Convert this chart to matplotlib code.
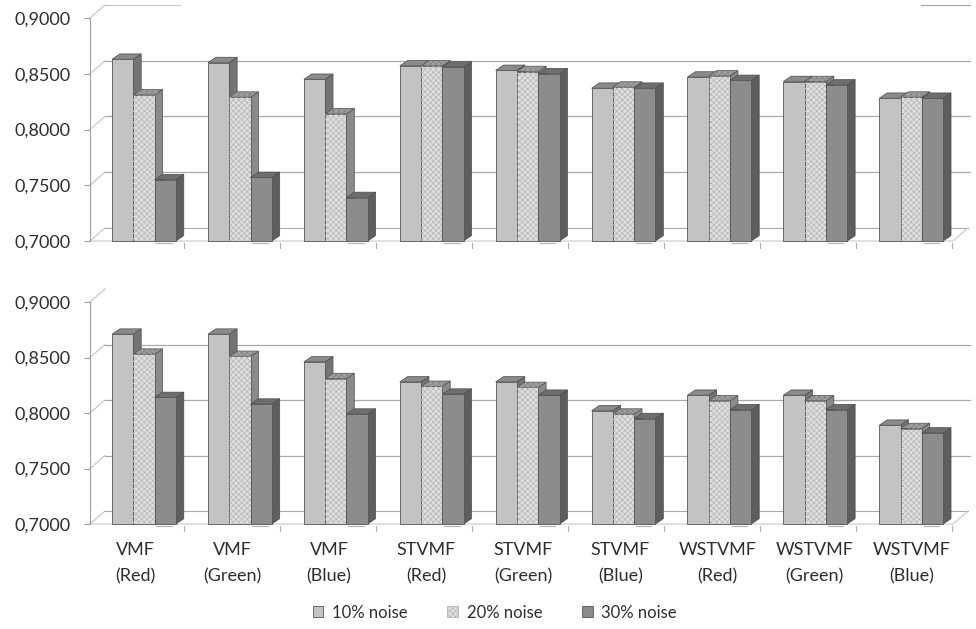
import matplotlib.pyplot as plt
from matplotlib.patches import Polygon, Rectangle, Patch

plt.rcParams['font.family'] = ['Lato', 'DejaVu Sans']
plt.rcParams['hatch.linewidth'] = 0.45

categories = ['VMF\n(Red)', 'VMF\n(Green)', 'VMF\n(Blue)',
              'STVMF\n(Red)', 'STVMF\n(Green)', 'STVMF\n(Blue)',
              'WSTVMF\n(Red)', 'WSTVMF\n(Green)', 'WSTVMF\n(Blue)']
series = ['10% noise', '20% noise', '30% noise']

# upper chart
top_noise10 = [0.863, 0.860, 0.845, 0.857, 0.853, 0.837, 0.847, 0.843, 0.828]
top_noise20 = [0.831, 0.829, 0.814, 0.857, 0.852, 0.838, 0.848, 0.843, 0.829]
top_noise30 = [0.755, 0.757, 0.739, 0.856, 0.850, 0.837, 0.844, 0.840, 0.828]

# lower chart
bot_noise10 = [0.871, 0.871, 0.846, 0.828, 0.828, 0.802, 0.816, 0.816, 0.789]
bot_noise20 = [0.853, 0.851, 0.831, 0.824, 0.823, 0.799, 0.811, 0.811, 0.786]
bot_noise30 = [0.814, 0.808, 0.799, 0.817, 0.816, 0.795, 0.803, 0.803, 0.782]

yticks = [0.70, 0.75, 0.80, 0.85, 0.90]

front_col = ['#c3c3c3', '#dedede', '#8c8c8c']
side_col = ['#747474', '#8a8a8a', '#5e5e5e']
top_col = ['#8a8a8a', '#a0a0a0', '#6e6e6e']
text_col = '#2e2e2e'

bar_w = 0.222               # front face width
bdx, bdy = 0.082, 0.0048    # bar depth
wdx, wdy = 0.156, 0.0117    # wall depth
x0, x1 = -0.563, 8.436      # floor front edge
grid_col = '#a8a8a8'


def draw_panel(ax, values, partial_top=False):
    ax.set_xlim(x0, 8.665)
    ax.set_ylim(0.70, 0.90)
    # back wall gridlines and left wall diagonals
    for t in yticks[1:4]:
        ax.plot([x0 + wdx, x1 + wdx + 0.02], [t + wdy, t + wdy],
                color=grid_col, lw=0.9, zorder=1)
    for t in yticks:
        ax.plot([x0, x0 + wdx], [t, t + wdy], color='#c4c4c4', lw=0.8,
                zorder=1, clip_on=False)
    if partial_top:
        ax.plot([x0 + wdx, 0.38], [0.9 + wdy, 0.9 + wdy], color='#c4c4c4',
                lw=0.8, zorder=1, clip_on=False)
        ax.plot([8.1, x1 + wdx + 0.02], [0.9 + wdy, 0.9 + wdy],
                color=grid_col, lw=0.9, zorder=1, clip_on=False)
    # floor
    ax.plot([x0 + wdx, x1 + wdx], [0.7 + wdy, 0.7 + wdy], color=grid_col,
            lw=0.8, zorder=1)
    ax.plot([x0, x1, x1 + wdx], [0.7, 0.7, 0.7 + wdy], color='#c8c8c8',
            lw=0.8, zorder=1, clip_on=False)
    # category ticks under the floor
    for i in range(len(categories)):
        ax.plot([i + 0.42, i + 0.42], [0.6985, 0.6935], color='#b0b0b0',
                lw=0.8, clip_on=False)
        ax.plot([i + 0.13, i + 0.29], [0.6985, 0.6985], color='#b0b0b0',
                lw=0.8, clip_on=False)

    # 3D-style bars
    for i in range(len(categories)):
        for j, vals in enumerate(values):
            v = vals[i]
            xl = i + (j - 1.5) * bar_w
            xr = xl + bar_w
            top_pts = [(xl, v), (xl + bdx, v + bdy), (xr + bdx, v + bdy), (xr, v)]
            side = Polygon([(xr, 0.7), (xr + bdx, 0.7 + bdy),
                            (xr + bdx, v + bdy), (xr, v)],
                           closed=True, fc=side_col[j], ec='#4a4a4a',
                           lw=0.5, zorder=3, clip_on=False)
            top = Polygon(top_pts, closed=True, fc=top_col[j], ec='#4a4a4a',
                          lw=0.5, zorder=3, clip_on=False)
            front = Rectangle((xl, 0.7), bar_w, v - 0.7, fc=front_col[j],
                              ec='#555555', lw=0.6, zorder=3, clip_on=False)
            ax.add_patch(side)
            ax.add_patch(top)
            ax.add_patch(front)
            if j == 1:
                ax.add_patch(Rectangle((xl, 0.7), bar_w, v - 0.7, fc='none',
                                       ec='#b2b2b2', lw=0, hatch='xxxxxx',
                                       zorder=3, clip_on=False))
                ax.add_patch(Polygon(top_pts, closed=True, fc='none',
                                     ec='#7e7e7e', lw=0, hatch='xxxxxx',
                                     zorder=3, clip_on=False))

    for s in ['top', 'right', 'bottom']:
        ax.spines[s].set_visible(False)
    ax.spines['left'].set_color('#a0a0a0')
    ax.set_yticks(yticks)
    ax.set_yticklabels([f'{t:.4f}'.replace('.', ',') for t in yticks])
    ax.tick_params(axis='y', length=4, pad=10, color='#a0a0a0',
                   labelsize=13, labelcolor=text_col)
    ax.set_xticks([])


fig = plt.figure(figsize=(9.76, 6.29), dpi=100)
ax_top = fig.add_axes([90 / 976, 1 - 241 / 629, 885 / 976, 223 / 629])
ax_bot = fig.add_axes([90 / 976, 1 - 524 / 629, 885 / 976, 222 / 629])

draw_panel(ax_top, [top_noise10, top_noise20, top_noise30], partial_top=True)
draw_panel(ax_bot, [bot_noise10, bot_noise20, bot_noise30])

# category labels
for i, lab in enumerate(categories):
    ax_bot.text(i * 97.1 / 95.9 - 0.094, 0.6648, lab, ha='center',
                va='center', fontsize=13, color=text_col, linespacing=1.75,
                clip_on=False)

handles = [Patch(fc=front_col[0], ec='#555555', lw=0.6),
           Patch(fc=front_col[1], ec='#b2b2b2', lw=0.6, hatch='xxxxxx'),
           Patch(fc=front_col[2], ec='#555555', lw=0.6)]
fig.legend(handles, series, loc='center', bbox_to_anchor=(0.507, 0.026),
           ncol=3, frameon=False, fontsize=12, handlelength=0.65,
           handleheight=0.65, columnspacing=2.4, handletextpad=0.5,
           labelcolor=text_col)

fig.savefig('out.png', dpi=100)
